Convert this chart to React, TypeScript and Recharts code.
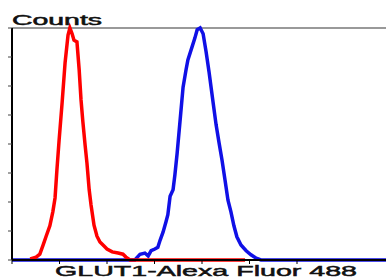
import { LineChart, Line, XAxis, YAxis, ReferenceLine } from "recharts";

// red histogram (control)
const redX = [49, 65, 75, 84, 92, 102, 110, 116, 121, 127, 135, 143, 151, 156, 162, 167, 175, 181, 186, 191, 197, 202, 208, 213, 221, 229, 237, 248, 256, 270, 286, 299, 307, 318, 628];
const redY = [2, 5, 10, 26, 41, 59, 83, 107, 155, 207, 271, 340, 388, 400, 390, 379, 376, 328, 276, 238, 198, 167, 121, 95, 60, 41, 31, 24, 19, 14, 12, 10, 5, 0, 0];

// blue histogram (GLUT1 stained)
const blueX = [0, 331, 345, 358, 367, 375, 385, 393, 399, 407, 415, 420, 426, 434, 439, 445, 453, 461, 469, 474, 485, 493, 499, 507, 515, 523, 531, 542, 550, 558, 566, 574, 582, 590, 598, 606, 617, 631, 644, 658, 671, 1024];
const blueY = [0, 0, 10, 12, 7, 16, 19, 22, 34, 48, 66, 78, 110, 121, 147, 184, 241, 298, 328, 345, 367, 383, 397, 400, 390, 359, 324, 271, 233, 202, 172, 138, 103, 83, 59, 40, 26, 16, 9, 3, 0, 0];

const xTicks = [0, 128, 256, 384, 512, 640, 768, 896, 1024];
const yTicks = [0, 50, 100, 150, 200, 250, 300, 350, 400];

const redData = redX.map((x, i) => ({ x, y: redY[i] }));
const blueData = blueX.map((x, i) => ({ x, y: blueY[i] }));

const font = "'Liberation Sans', Arial, sans-serif";

export default function App() {
  return (
    <div style={{ position: "absolute", left: 0, top: 0, width: 386, height: 278, overflow: "hidden", background: "#fff" }}>
      <LineChart width={392} height={278} margin={{ top: 28, right: 0, bottom: 0, left: 0 }}>
        <XAxis
          type="number"
          dataKey="x"
          domain={[0, 1024]}
          ticks={xTicks}
          allowDuplicatedCategory={false}
          height={18}
          axisLine={{ stroke: "#000", strokeWidth: 2 }}
          tickLine={{ stroke: "#000" }}
          tickSize={4}
          tick={() => <g />}
          label={{
            content: () => (
              <text x={55} y={276} fontFamily={font} fontSize={15.5} fill="#111" stroke="#111" strokeWidth={0.5} textLength={302} lengthAdjust="spacingAndGlyphs">
                GLUT1-Alexa Fluor 488
              </text>
            ),
          }}
        />
        <YAxis
          type="number"
          dataKey="y"
          domain={[0, 400]}
          ticks={yTicks}
          width={12}
          axisLine={{ stroke: "#000", strokeWidth: 2 }}
          tickLine={{ stroke: "#444" }}
          tickSize={4}
          tick={() => <g />}
          label={{
            content: () => (
              <text x={12} y={25} fontFamily={font} fontSize={14} fill="#111" stroke="#111" strokeWidth={0.5} textLength={90} lengthAdjust="spacingAndGlyphs">
                Counts
              </text>
            ),
          }}
        />
        <ReferenceLine y={400} stroke="#999" strokeWidth={2} />
        <Line data={blueData} dataKey="y" type="linear" stroke="#1010e6" strokeWidth={3.5} dot={false} isAnimationActive={false} />
        <Line data={redData} dataKey="y" type="linear" stroke="#ff0000" strokeWidth={3.5} dot={false} isAnimationActive={false} />
      </LineChart>
    </div>
  );
}
